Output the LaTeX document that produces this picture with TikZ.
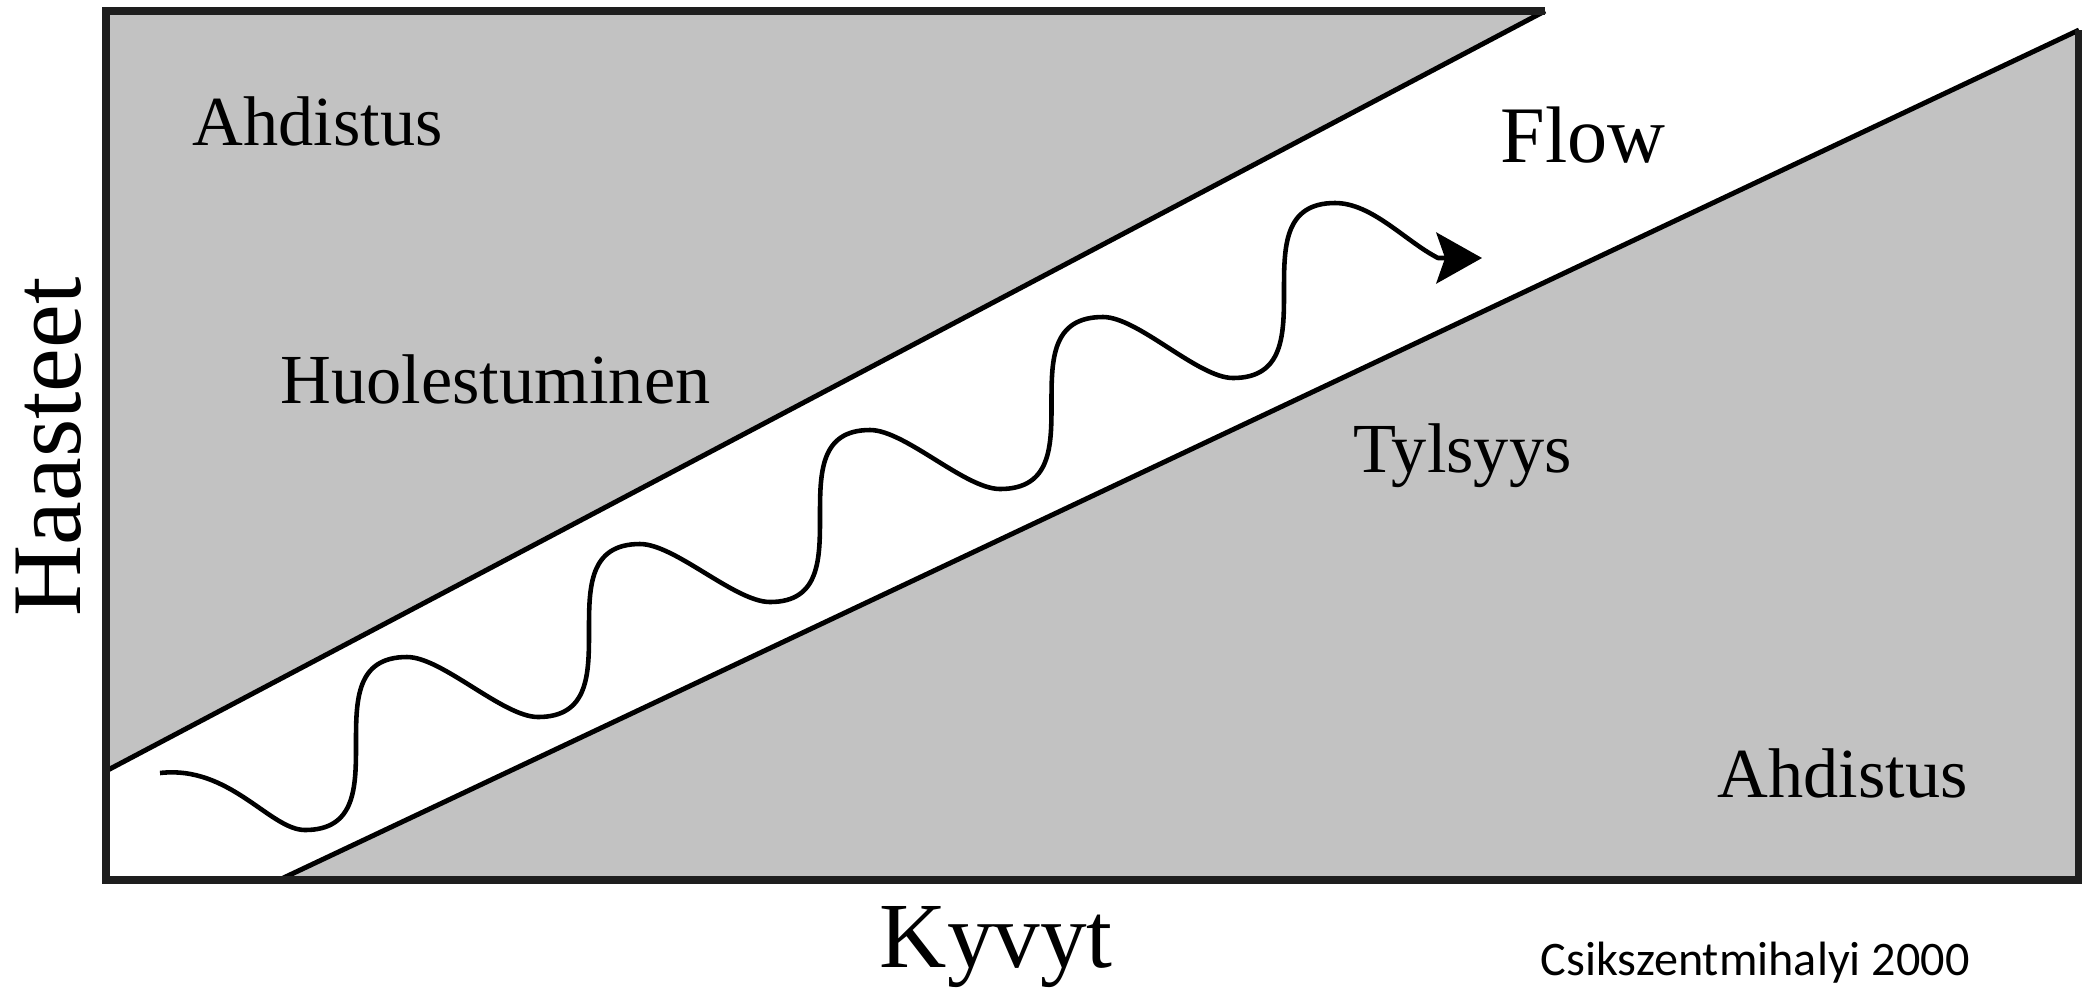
\documentclass[tikz,border=0pt]{standalone}
\usepackage{fontspec}
\setmainfont{Liberation Serif}
\newfontfamily\citefont{Carlito}
\usetikzlibrary{arrows.meta}
\definecolor{zonegray}{HTML}{C2C2C2}
\definecolor{framecol}{HTML}{1E1E1E}
\begin{document}
\begin{tikzpicture}[x=0.01cm, y=-0.01cm,
  zone/.style={fill=zonegray, draw=none},
  bandedge/.style={draw=black, line width=1.4pt},
  framebox/.style={draw=framecol, line width=2.1pt, line join=miter},
  zonelabel/.style={anchor=base west, inner sep=0pt, font=\fontsize{20}{24}\selectfont},
  axislabel/.style={inner sep=0pt, font=\fontsize{27}{30}\selectfont},
  wave/.style={line width=1.3pt, line join=round,
    -{Stealth[length=13pt, width=14.5pt, inset=2.5pt]}}]
\useasboundingbox (0,0) rectangle (2082,987);

% corner points of the chart and of the flow channel
\coordinate (tl) at (106,11);
\coordinate (ut) at (1545,11);
\coordinate (ul) at (106,771);
\coordinate (lb) at (279,880);
\coordinate (lr) at (2079,30);
\coordinate (br) at (2079,880);
\coordinate (bl) at (106,880);

% shaded zones above and below the channel
\fill[zone] (tl) -- (ut) -- (ul) -- cycle;
\fill[zone] (lb) -- (lr) -- (br) -- cycle;

% channel edges
\draw[bandedge] (ut) -- (ul);
\draw[bandedge] (lb) -- (lr);

% frame
\draw[framebox] (ut) -- (tl) -- (bl) -- (br) -- (lr);

% wavy path through the channel
\coordinate (wstart) at (160,773);
\coordinate (wend) at (1482,258);
\draw[wave] (wstart)
  .. controls (230,765) and (270,830) .. (305,830)
  .. controls (407,830) and (305,657) .. (407,657)
  .. controls (442,657) and (503,717) .. (538,717)
  .. controls (640,717) and (538,544) .. (640,544)
  .. controls (675,544) and (735,602) .. (770,602)
  .. controls (870,602) and (770,430) .. (870,430)
  .. controls (905,430) and (965,489) .. (1000,489)
  .. controls (1103,489) and (1000,317) .. (1103,317)
  .. controls (1138,317) and (1198,378) .. (1233,378)
  .. controls (1335,378) and (1233,203) .. (1335,203)
  .. controls (1372,203) and (1405,241) .. (1438,258)
  -- (wend);

% zone labels
\node[zonelabel] (ahd1) at (192,145) {Ahdistus};
\node[zonelabel] (huol) at (280,403) {Huolestuminen};
\node[zonelabel, font=\fontsize{22.8}{26}\selectfont] (flow) at (1500,162) {Flow};
\node[zonelabel] (tyls) at (1353,472) {Tylsyys};
\node[zonelabel] (ahd2) at (1717,797) {Ahdistus};

% axis labels
\node[axislabel, font=\fontsize{28}{31}\selectfont, rotate=90, anchor=base] (haast) at (80,447) {Haasteet};
\node[axislabel, font=\fontsize{26.5}{30}\selectfont, anchor=base west] (kyvyt) at (879,967) {Kyvyt};

% source
\node[anchor=base west, inner sep=0pt, font=\citefont\fontsize{13.7}{16}\selectfont] (src) at (1540,975) {Csikszentmihalyi 2000};
\end{tikzpicture}
\end{document}
